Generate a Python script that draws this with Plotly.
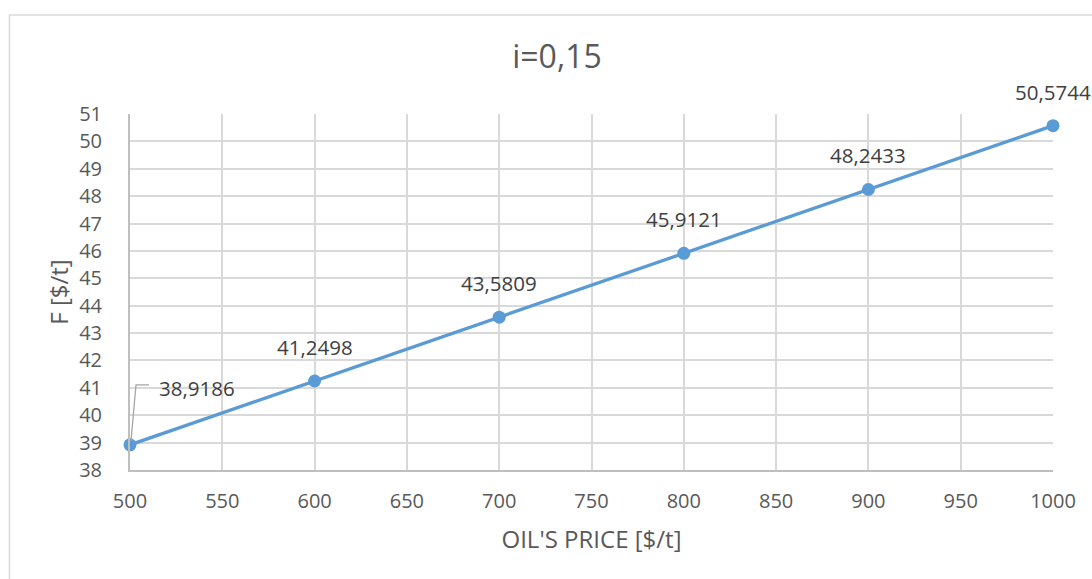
import plotly.graph_objects as go

# Oil price vs. F for i = 0,15
oil_price = [500, 600, 700, 800, 900, 1000]
f_values = [38.9186, 41.2498, 43.5809, 45.9121, 48.2433, 50.5744]
x_ticks = list(range(500, 1001, 50))
y_ticks = list(range(38, 52))

FONT = "'Open Sans', sans-serif"
LINE_BLUE = "#5b9bd5"
GRID = "#d9d9d9"
AXIS = "#bfbfbf"
TEXT = "#595959"
LABEL = "#404040"


def fmt(v):
    return f"{v:.4f}".replace(".", ",")


fig = go.Figure()
fig.add_trace(go.Scatter(
    x=oil_price, y=f_values, mode="lines+markers",
    line=dict(color=LINE_BLUE, width=3.3),
    marker=dict(color=LINE_BLUE, size=13),
    cliponaxis=False, showlegend=False,
))

# data labels above each point; the first one is moved to the upper right
for i, (xv, yv) in enumerate(zip(oil_price, f_values)):
    if i == 0:
        fig.add_annotation(
            x=xv, y=yv, text=fmt(yv), showarrow=False,
            xshift=67, yshift=57, xanchor="center", yanchor="middle",
            font=dict(family=FONT, size=20.5, color=LABEL),
        )
        # elbow leader line from the point to the moved label
        fig.add_shape(
            type="path", xref="x", yref="y",
            xsizemode="pixel", ysizemode="pixel",
            xanchor=xv, yanchor=yv,
            path="M1,4 L6,60 L19,60",
            line=dict(color="#a6a6a6", width=1.3),
        )
    else:
        fig.add_annotation(
            x=xv, y=yv, text=fmt(yv), showarrow=False, yshift=34,
            font=dict(family=FONT, size=20.5, color=LABEL),
        )

# chart frame
fig.add_shape(type="rect", xref="paper", yref="paper",
              x0=-0.1306, x1=1.06, y0=-0.5, y1=1.278,
              line=dict(color=GRID, width=1.5), layer="below")

fig.update_layout(
    width=1092, height=579,
    margin=dict(l=130, r=39, t=114, b=109),
    paper_bgcolor="white", plot_bgcolor="white",
    title=dict(text="i=0,15", x=557 / 1092, xref="container", xanchor="center",
               y=1 - 57 / 579, yref="container", yanchor="middle",
               font=dict(family=FONT, size=32, color=TEXT)),
    font=dict(family=FONT, size=20, color=TEXT),
    xaxis=dict(
        range=[500, 1000], tickvals=x_ticks, showgrid=True, gridcolor=GRID,
        gridwidth=1.5, showline=True, linecolor=AXIS, linewidth=2,
        zeroline=False, ticks="", ticklabelstandoff=12,
        title=dict(text="OIL'S PRICE [$/t]", standoff=18,
                   font=dict(family=FONT, size=24, color=TEXT)),
    ),
    yaxis=dict(
        range=[38, 51], tickvals=y_ticks, showgrid=True, gridcolor=GRID,
        gridwidth=1.5, showline=True, linecolor=AXIS, linewidth=2,
        zeroline=False, ticks="", ticklabelstandoff=22,
        title=dict(text="F [$/t]", standoff=4,
                   font=dict(family=FONT, size=24, color=TEXT)),
    ),
)

fig.write_html("out.html")
